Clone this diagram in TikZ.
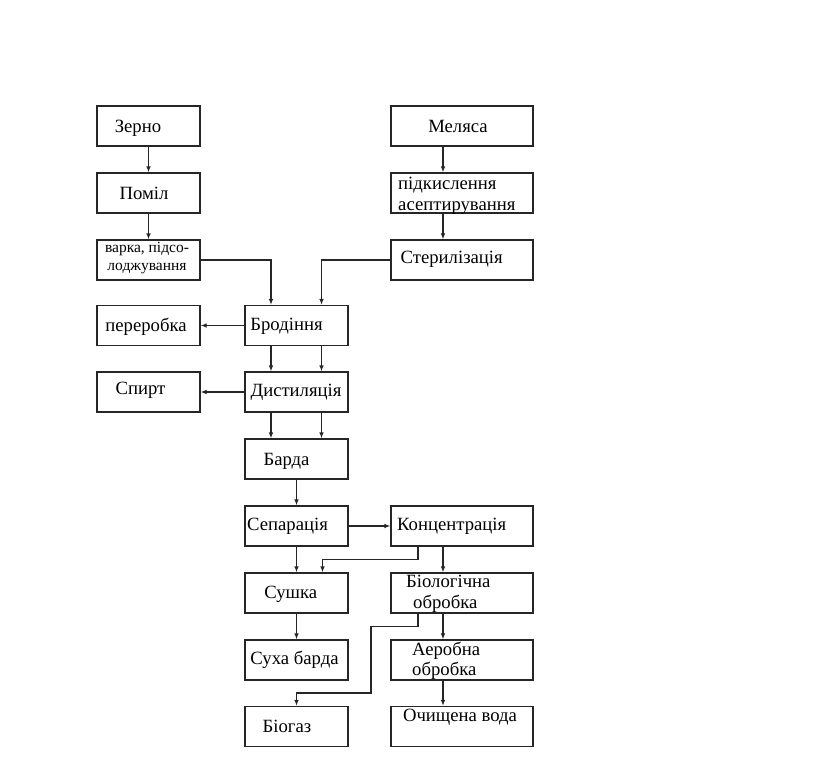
\documentclass[tikz,border=0pt]{standalone}
\usepackage{fontspec}
\setmainfont{Liberation Serif}
\usetikzlibrary{arrows.meta}
\begin{document}
\begin{tikzpicture}[x=1pt,y=-1pt,
  box/.style={draw=black!85,line width=1.1pt,minimum height=40pt,inner sep=0pt,anchor=center},
  lbox/.style={box,minimum width=103pt},
  rbox/.style={box,minimum width=142pt},
  txt/.style={font=\fontsize{18.7}{21}\selectfont,inner sep=0pt,anchor=center},
  stxt/.style={font=\fontsize{15.5}{18}\selectfont,inner sep=0pt,anchor=center,align=center},
  ltxt/.style={font=\fontsize{18.7}{20.5}\selectfont,inner sep=0pt,anchor=west,align=left},
  arr/.style={draw=black!85,line width=1.1pt,-{Latex[length=6pt,width=4.5pt]}}]
\useasboundingbox (0,0) rectangle (819,779);
% boxes
\node[lbox] (zerno) at (148.5,126) {};
\node[lbox] (pomil) at (148.5,193) {};
\node[lbox] (varka) at (148.5,260) {};
\node[lbox] (pererob) at (148.5,325.5) {};
\node[lbox] (spirt) at (148.5,392) {};
\node[lbox] (brod) at (296.5,325.5) {};
\node[lbox] (dist) at (296.5,392) {};
\node[lbox] (barda) at (296.5,459) {};
\node[lbox] (separ) at (296.5,526) {};
\node[lbox] (sushka) at (296.5,593) {};
\node[lbox] (suha) at (296.5,660) {};
\node[lbox] (biogaz) at (296.5,726.5) {};
\node[rbox] (melasa) at (462,126) {};
\node[rbox] (pidk) at (462,193) {};
\node[rbox] (steril) at (462,260) {};
\node[rbox] (konc) at (462,526) {};
\node[rbox] (biol) at (462,593) {};
\node[rbox] (aerob) at (462,660) {};
\node[rbox] (ochysh) at (462,726.5) {};
% texts
\node[txt] (t1) at (138,128) {Зерно};
\node[txt] (t2) at (144,193) {Поміл};
\node[stxt] (t3) at (147,258) {варка, підсо-\\лоджування};
\node[txt] (t4) at (146,326.5) {переробка};
\node[txt] (t5) at (140.5,390) {Спирт};
\node[txt] (t6) at (286.5,326.5) {Бродіння};
\node[txt] (t7) at (296,392) {Дистиляція};
\node[txt] (t8) at (286.5,461) {Барда};
\node[txt] (t9) at (287.5,526.7) {Сепарація};
\node[txt] (t10) at (290.8,594) {Сушка};
\node[txt] (t11) at (294.5,660) {Суха барда};
\node[txt] (t12) at (287,726) {Біогаз};
\node[txt] (t13) at (458,126.7) {Меляса};
\node[ltxt] (t14) at (398,196) {підкислення\\асептирування};
\node[txt] (t15) at (451.7,259) {Стерилізація};
\node[txt] (t16) at (451.7,526.7) {Концентрація};
\node[ltxt] (t17) at (406,594) {Біологічна\\\hspace*{7pt}обробка};
\node[ltxt] (t18) at (412,661) {Аеробна\\обробка};
\node[txt] (t19) at (460,717.7) {Очищена вода};
% helper coordinates
\coordinate (k1) at (371,626.7);
\coordinate (k2) at (371,693);
% connectors
\draw[arr] (zerno.south) -- (pomil.north);
\draw[arr] (pomil.south) -- (varka.north);
\draw[arr] (varka.east) -| ([xshift=-25.5pt]brod.north);
\draw[arr] (steril.west) -| ([xshift=25pt]brod.north);
\draw[arr] (melasa.south) ++(-19pt,0) coordinate (m1) -- (m1 |- pidk.north);
\draw[arr] (pidk.south) ++(-19pt,0) coordinate (m2) -- (m2 |- steril.north);
\draw[arr] (brod.west) -- (pererob.east);
\draw[arr] (dist.west) -- (spirt.east);
\draw[arr] ([xshift=-25.5pt]brod.south) -- ([xshift=-25.5pt]dist.north);
\draw[arr] ([xshift=25pt]brod.south) -- ([xshift=25pt]dist.north);
\draw[arr] ([xshift=-25.5pt]dist.south) -- ([xshift=-25.5pt]barda.north);
\draw[arr] ([xshift=25pt]dist.south) -- ([xshift=25pt]barda.north);
\draw[arr] (barda.south) -- (separ.north);
\draw[arr] (separ.east) -- (konc.west);
\draw[arr] (separ.south) -- (sushka.north);
\draw[arr] ([xshift=-44pt]konc.south) -- ++(0,13) -| ([xshift=26pt]sushka.north);
\draw[arr] ([xshift=-19pt]konc.south) -- ([xshift=-19pt]biol.north);
\draw[arr] (sushka.south) -- (suha.north);
\draw[arr] ([xshift=-44pt]biol.south) |- (k1) -- (k2) -| (biogaz.north);
\draw[arr] ([xshift=-19pt]biol.south) -- ([xshift=-19pt]aerob.north);
\draw[arr] ([xshift=-19pt]aerob.south) -- ([xshift=-19pt]ochysh.north);
\end{tikzpicture}
\end{document}
